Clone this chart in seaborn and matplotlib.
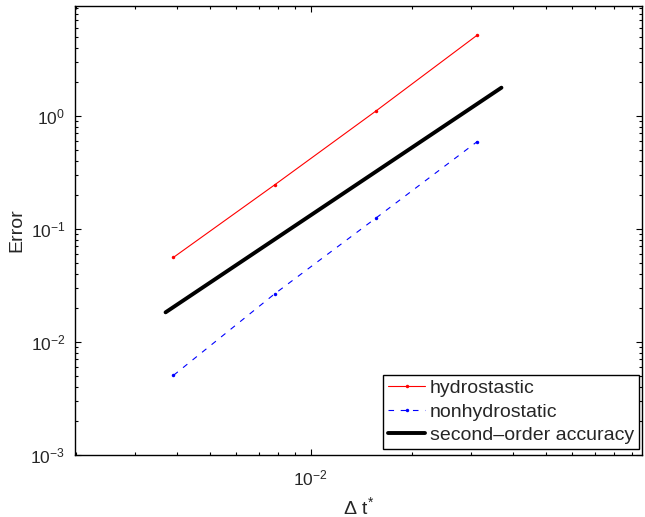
import math
import matplotlib
matplotlib.use("Agg")
import matplotlib.pyplot as plt
import matplotlib.ticker as mticker
import seaborn as sns
import pandas as pd

# time steps (1/256 ... 1/32) and errors
dt = [1 / 256, 1 / 128, 1 / 64, 1 / 32]
err_hydro = [0.0561, 0.246, 1.107, 5.19]
err_nonhydro = [0.00507, 0.0267, 0.125, 0.593]

# reference slope line endpoints
dt_ref = [0.0037, 0.0369]
err_ref = [0.0183, 1.78]

sns.set_style("ticks")
plt.rcParams['font.family'] = ['Liberation Sans', 'DejaVu Sans']
plt.rcParams['mathtext.fontset'] = 'custom'
plt.rcParams['mathtext.rm'] = 'Liberation Sans'
plt.rcParams['mathtext.it'] = 'Liberation Sans'
plt.rcParams['mathtext.bf'] = 'Liberation Sans:bold'

fig = plt.figure(figsize=(6.45, 5.17), dpi=100)
ax = fig.add_axes([75 / 645, 62 / 517, 567 / 645, 449 / 517])

df_h = pd.DataFrame({'dt': dt, 'err': err_hydro})
df_n = pd.DataFrame({'dt': dt, 'err': err_nonhydro})
df_r = pd.DataFrame({'dt': dt_ref, 'err': err_ref})

sns.lineplot(data=df_h, x='dt', y='err', ax=ax, color='red', lw=0.8,
             marker='.', markersize=5, markeredgewidth=0, label='hydrostastic')
sns.lineplot(data=df_n, x='dt', y='err', ax=ax, color='blue', lw=0.8,
             linestyle=(0, (5, 6)), marker='.', markersize=5, markeredgewidth=0,
             label='nonhydrostatic')
sns.lineplot(data=df_r, x='dt', y='err', ax=ax, color='black', lw=2.8,
             label='second\u2013order accuracy')

ax.set_xscale('log')
ax.set_yscale('log')
ax.set_xlim(0.00199, 0.0966)
ax.set_ylim(1e-3, 9.4)

ax.xaxis.set_major_locator(mticker.FixedLocator([1e-2]))
ax.xaxis.set_minor_locator(mticker.LogLocator(base=10, subs=range(2, 10), numticks=20))
ax.yaxis.set_major_locator(mticker.LogLocator(base=10, numticks=10))
ax.yaxis.set_minor_locator(mticker.LogLocator(base=10, subs=range(2, 10), numticks=20))
ax.xaxis.set_minor_formatter(mticker.NullFormatter())
ax.yaxis.set_minor_formatter(mticker.NullFormatter())

fmt = mticker.FuncFormatter(lambda v, p: r'$10^{%d}$' % round(math.log10(v)))
ax.xaxis.set_major_formatter(fmt)
ax.yaxis.set_major_formatter(fmt)

ax.tick_params(which='both', direction='in', top=True, right=True,
               labelsize=12.5, width=0.8, color='black')
ax.tick_params(which='major', length=4.5)
ax.tick_params(which='minor', length=2.3)
ax.tick_params(axis='x', which='major', pad=10)
ax.tick_params(axis='y', which='major', pad=7)
for s in ax.spines.values():
    s.set_linewidth(1.0)
    s.set_color('black')

ax.set_xlabel(r'$\Delta\ \mathrm{t}^{*}$', fontsize=14, labelpad=5)
ax.set_ylabel('Error', fontsize=14, labelpad=4)
ax.grid(False)

leg = ax.legend(loc='lower right', bbox_to_anchor=(564 / 567, 6 / 449),
                fontsize=14, frameon=True, fancybox=False,
                edgecolor='black', framealpha=1, borderaxespad=0,
                handlelength=1.9, handletextpad=0.25, borderpad=0.25,
                labelspacing=0.3)
leg.get_frame().set_linewidth(1.0)

fig.savefig('out.png', dpi=100)
